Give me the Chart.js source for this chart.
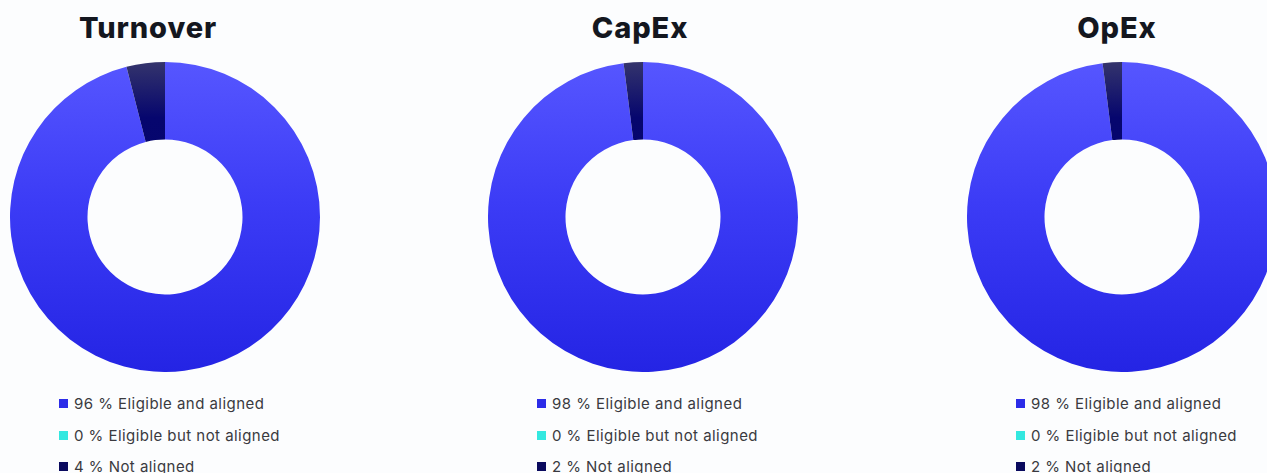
<!DOCTYPE html>
<html>
<head>
<meta charset="utf-8">
<script src="https://cdn.jsdelivr.net/npm/chart.js@4.4.1/dist/chart.umd.min.js"></script>
<style>
  body {
    margin: 0;
    width: 1267px;
    height: 473px;
    overflow: hidden;
    background: #fcfdfe;
    font-family: "Inter", "Noto Sans", sans-serif;
    position: relative;
  }
  .titel {
    position: absolute;
    top: 10px;
    width: 240px;
    margin: 0;
    text-align: center;
    font-size: 29px;
    font-weight: 800;
    color: #14171f;
    letter-spacing: 0.9px;
  }
  .donut {
    position: absolute;
    top: 62px;
  }
  .legende {
    position: absolute;
    top: 394px;
    margin: 0;
    padding: 0;
    list-style: none;
    font-size: 15px;
    letter-spacing: 0.45px;
    color: #3a3a3f;
  }
  .legende li {
    height: 31.5px;
    display: flex;
    align-items: flex-start;
  }
  .legende span.box {
    display: inline-block;
    width: 9px;
    height: 9px;
    margin: 5px 6px 0 1px;
  }
</style>
</head>
<body>

<script>
// Kennzahlen
const titel = ['Turnover', 'CapEx', 'OpEx'];
const kategorien = ['Eligible and aligned', 'Eligible but not aligned', 'Not aligned'];
const turnover = [96, 0, 4];
const capex = [98, 0, 2];
const opex = [98, 0, 2];
const werte = [turnover, capex, opex];

// Layout je Diagramm (Mittelpunkt x, Titelmitte x)
const mitteX = [165, 643, 1122];
const titelX = [148, 640, 1117];
const radius = 155;

const legendenFarben = ['#2c2ce8', '#33e8e0', '#0a0a5e'];

function verlauf(ctx, area, stops) {
    const g = ctx.createLinearGradient(0, area.top, 0, area.bottom);
    stops.forEach(s => g.addColorStop(s[0], s[1]));
    return g;
}

function segmentFarbe(context) {
    const chart = context.chart;
    const area = chart.chartArea;
    if (!area) return legendenFarben[context.dataIndex];
    const ctx = chart.ctx;
    if (context.dataIndex === 0) {
        return verlauf(ctx, area, [[0, '#5656ff'], [0.45, '#3c3cf6'], [1, '#2424e4']]);
    }
    if (context.dataIndex === 1) {
        return '#33e8e0';
    }
    return verlauf(ctx, area, [[0, '#34346c'], [0.18, '#06066e'], [1, '#00006a']]);
}

function diagrammErstellen(i) {
    const t = document.createElement('h2');
    t.className = 'titel';
    t.textContent = titel[i];
    t.style.left = (titelX[i] - 120) + 'px';
    document.body.appendChild(t);

    const canvas = document.createElement('canvas');
    canvas.className = 'donut';
    canvas.width = radius * 2;
    canvas.height = radius * 2;
    canvas.style.left = (mitteX[i] - radius) + 'px';
    document.body.appendChild(canvas);

    new Chart(canvas.getContext('2d'), {
        type: 'doughnut',
        data: {
            labels: kategorien,
            datasets: [{
                data: werte[i],
                backgroundColor: segmentFarbe,
                borderWidth: 0
            }]
        },
        options: {
            responsive: false,
            animation: false,
            cutout: '50%',
            plugins: {
                legend: { display: false },
                tooltip: { enabled: false }
            }
        }
    });

    // Legende aus denselben Werten
    const ul = document.createElement('ul');
    ul.className = 'legende';
    ul.style.left = (mitteX[i] - 107) + 'px';
    kategorien.forEach((k, j) => {
        const li = document.createElement('li');
        const box = document.createElement('span');
        box.className = 'box';
        box.style.background = legendenFarben[j];
        li.appendChild(box);
        li.appendChild(document.createTextNode(werte[i][j] + ' % ' + k));
        ul.appendChild(li);
    });
    document.body.appendChild(ul);
}

titel.forEach((_, i) => diagrammErstellen(i));
</script>
</body>
</html>
